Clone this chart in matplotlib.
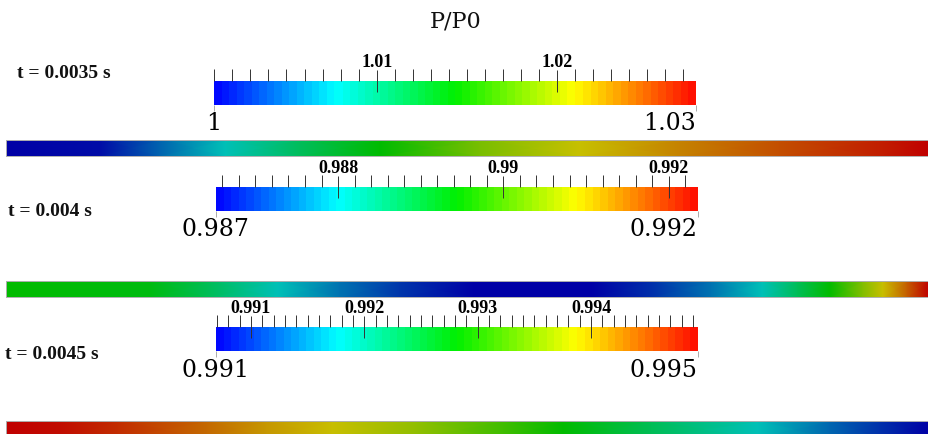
import numpy as np
import matplotlib
matplotlib.use('Agg')
import matplotlib.pyplot as plt
from matplotlib.colors import LinearSegmentedColormap, Normalize
from matplotlib.ticker import MultipleLocator

# ---------------- data ----------------
title = 'P/P0'
times = ['t = 0.0035 s', 't = 0.004 s', 't = 0.0045 s']

# legend (colour bar) ranges of P/P0 for each instant
legend_min = [1.00098, 0.98652, 0.99069]
legend_max = [1.02771, 0.99235, 0.99494]
legend_major = [[1.01, 1.02],
                [0.988, 0.99, 0.992],
                [0.991, 0.992, 0.993, 0.994]]
legend_major_labels = [['1.01', '1.02'],
                       ['0.988', '0.99', '0.992'],
                       ['0.991', '0.992', '0.993', '0.994']]
legend_minor_step = [0.001, 0.0002, 0.0001]
legend_end_labels = [['1', '1.03'], ['0.987', '0.992'], ['0.991', '0.995']]

# P/P0 sampled along the tube (x / L) for each instant
strip1_x = [0.0, 0.102, 0.167, 0.238, 0.319, 0.406, 0.514, 0.622, 0.731, 0.839, 0.948, 1.0]
strip1_p = [1.0010, 1.0015, 1.0045, 1.0077, 1.0111, 1.0143, 1.0184, 1.0210, 1.0232, 1.0249, 1.0266, 1.0277]

strip2_x = [0.0, 0.156, 0.221, 0.295, 0.362, 0.427, 0.508, 0.635, 0.698, 0.764, 0.820,
            0.858, 0.893, 0.929, 0.951, 0.977, 1.0]
strip2_p = [0.98944, 0.98932, 0.98874, 0.98798, 0.98740, 0.98693, 0.98653, 0.98653, 0.98688,
            0.98740, 0.98798, 0.98874, 0.98944, 0.99037, 0.99090, 0.99163, 0.99235]

strip3_x = [0.0, 0.059, 0.122, 0.218, 0.282, 0.354, 0.444, 0.539, 0.604, 0.699, 0.815, 0.893, 0.948, 1.0]
strip3_p = [0.99494, 0.99486, 0.99469, 0.99435, 0.99410, 0.99388, 0.99359, 0.99316, 0.99282,
            0.99232, 0.99176, 0.99126, 0.99096, 0.99070]

strips_x = [strip1_x, strip2_x, strip3_x]
strips_p = [strip1_p, strip2_p, strip3_p]

# ---------------- styling ----------------
bar_cmap = LinearSegmentedColormap.from_list(
    'small_rainbow', ['#0008FF', '#00FFFF', '#00F000', '#FFFF00', '#FF1000'], N=64)
strip_cmap = LinearSegmentedColormap.from_list(
    'shaded_rainbow', ['#0000A6', '#00C0B8', '#00BB00', '#C8C000', '#C00000'], N=256)

W, H = 929, 435
fig = plt.figure(figsize=(W / 100, H / 100), dpi=100)
fig.patch.set_facecolor('white')


def px_axes(x0, y0, x1, y1):
    return fig.add_axes([x0 / W, 1 - y1 / H, (x1 - x0) / W, (y1 - y0) / H])


bar_boxes = [(214.0, 82.3, 696.0, 106.0),
             (215.7, 188.0, 697.7, 211.7),
             (215.7, 328.3, 697.7, 352.3)]
strip_boxes = [(5.7, 140.7, 928.3, 156.7),
               (5.7, 282.3, 928.3, 298.3),
               (5.7, 422.3, 928.3, 438.3)]
time_pos = [(17, 73), (8, 212), (5, 355)]

fig.text(456 / W, 1 - 22 / H, title, ha='center', va='center',
         family='DejaVu Serif', fontsize=16, color='#111111')

for i in range(3):
    vmin, vmax = legend_min[i], legend_max[i]
    norm = Normalize(vmin, vmax)

    # ---- colour legend ----
    ax = px_axes(*bar_boxes[i])
    grad = np.linspace(vmin, vmax, 480)[None, :]
    ax.imshow(grad, cmap=bar_cmap, norm=norm, aspect='auto',
              extent=(vmin, vmax, 0, 1), interpolation='nearest')
    ax.set_xlim(vmin, vmax)
    ax.set_ylim(0, 1)
    for s in ax.spines.values():
        s.set_visible(False)
    ax.set_yticks([])
    ax.xaxis.tick_top()
    ax.set_xticks(legend_major[i], legend_major_labels[i],
                  family='Liberation Serif', fontweight='bold', fontsize=13)
    ax.xaxis.set_minor_locator(MultipleLocator(legend_minor_step[i]))
    ax.tick_params(axis='x', which='major', direction='inout', length=15.5,
                   width=0.7, color='#333333', pad=0.5)
    ax.tick_params(axis='x', which='minor', direction='out', length=8.3,
                   width=0.7, color='#333333')

    sec = ax.secondary_xaxis('bottom')
    sec.set_ticks([vmin, vmax], labels=legend_end_labels[i],
                  family='DejaVu Serif', fontsize=17, color='#000000')
    sec.tick_params(axis='x', length=4, width=0.7, color='#aaaaaa', pad=0.5)
    sec.spines['bottom'].set_visible(False)
    sec.get_xticklabels()[1].set_ha('right')

    # ---- pressure strip ----
    sax = px_axes(*strip_boxes[i])
    X = np.array(strips_x[i])
    C = np.vstack([strips_p[i], strips_p[i]])
    sax.pcolormesh(X, np.array([0.0, 1.0]), C, shading='gouraud',
                   cmap=strip_cmap, norm=norm)
    sax.set_xlim(0, 1)
    sax.set_ylim(0, 1)
    sax.set_xticks([])
    sax.set_yticks([])
    for s in sax.spines.values():
        s.set_color('#b0b0b0')
        s.set_linewidth(0.7)

    # ---- time label ----
    tx, ty = time_pos[i]
    fig.text(tx / W, 1 - ty / H, times[i], ha='left', va='center',
             family='Liberation Serif', fontweight='bold', fontsize=14,
             color='#111111')

fig.savefig('out.png', dpi=100)
